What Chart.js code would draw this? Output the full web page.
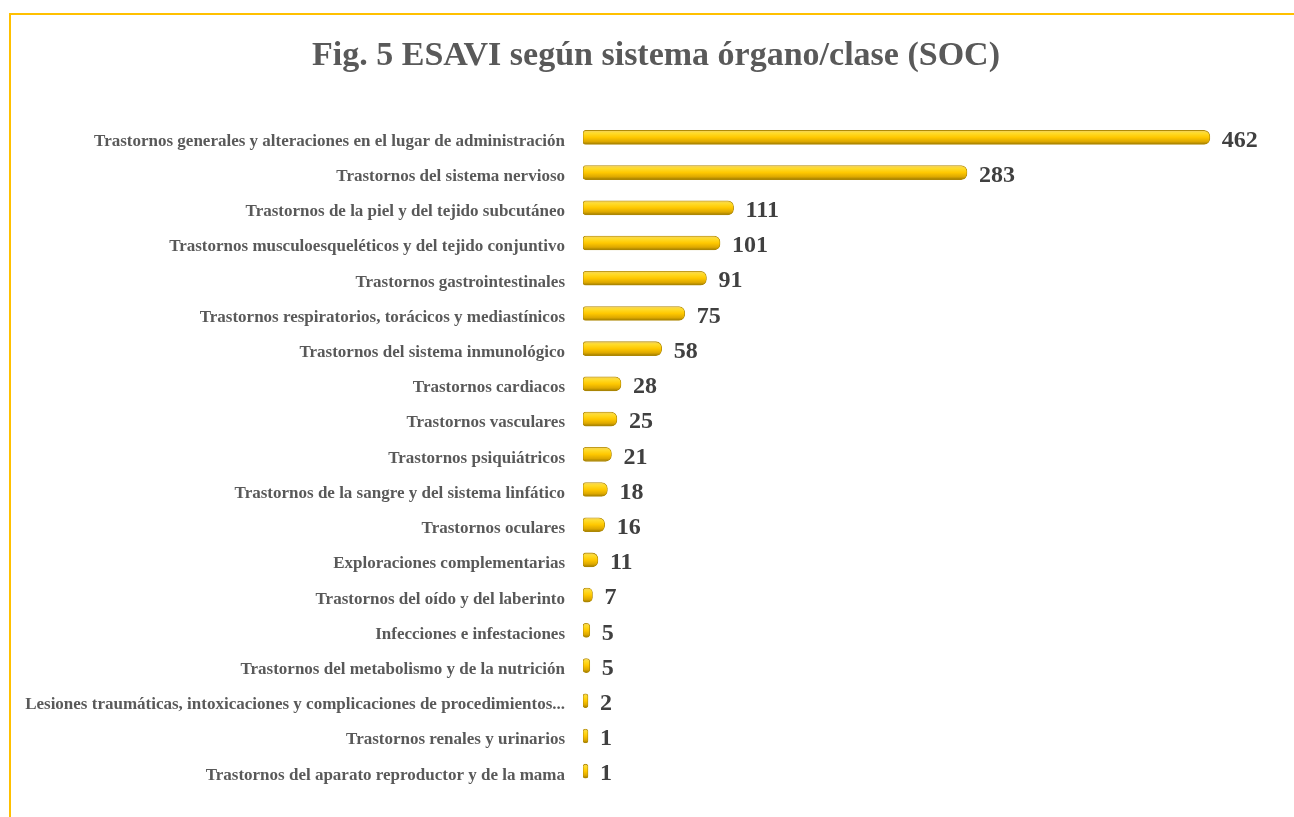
<!DOCTYPE html>
<html>
<head>
<meta charset="utf-8">
<script src="https://cdn.jsdelivr.net/npm/chart.js@4.4.1/dist/chart.umd.min.js"></script>
<style>
  html, body { margin: 0; padding: 0; background: #ffffff; }
  #wrap { position: relative; width: 1294px; height: 817px; overflow: hidden; }
  .ln { position: absolute; background: #FFC000; pointer-events: none; }
</style>
</head>
<body>
<div id="wrap">
  <canvas id="c"></canvas>
  <div class="ln" style="left:9px; top:13px; width:1290px; height:2px;"></div>
  <div class="ln" style="left:9px; top:13px; width:2px; height:810px;"></div>
</div>
<script>
const titleText = "Fig. 5 ESAVI según sistema órgano/clase (SOC)";
const categories = [
  "Trastornos generales y alteraciones en el lugar de administración",
  "Trastornos del sistema nervioso",
  "Trastornos de la piel y del tejido subcutáneo",
  "Trastornos musculoesqueléticos y del tejido conjuntivo",
  "Trastornos gastrointestinales",
  "Trastornos respiratorios, torácicos y mediastínicos",
  "Trastornos del sistema inmunológico",
  "Trastornos cardiacos",
  "Trastornos vasculares",
  "Trastornos psiquiátricos",
  "Trastornos de la sangre y del sistema linfático",
  "Trastornos oculares",
  "Exploraciones complementarias",
  "Trastornos del oído y del laberinto",
  "Infecciones e infestaciones",
  "Trastornos del metabolismo y de la nutrición",
  "Lesiones traumáticas, intoxicaciones y complicaciones de procedimientos...",
  "Trastornos renales y urinarios",
  "Trastornos del aparato reproductor y de la mama"
];
const counts = [462, 283, 111, 101, 91, 75, 58, 28, 25, 21, 18, 16, 11, 7, 5, 5, 2, 1, 1];
const axisMax = 524;

const FONT = "'Liberation Serif', 'DejaVu Serif', serif";

const valueLabels = {
  id: 'valueLabels',
  afterDatasetsDraw(chart) {
    const ctx = chart.ctx;
    const meta = chart.getDatasetMeta(0);
    ctx.save();
    ctx.font = "bold 24px " + FONT;
    ctx.fillStyle = "#404040";
    ctx.textAlign = "left";
    ctx.textBaseline = "middle";
    meta.data.forEach((el, i) => {
      ctx.fillText(String(counts[i]), el.x + 12, el.y + 3);
    });
    ctx.restore();
  }
};

function barFill(context) {
  const chart = context.chart;
  const yScale = chart.scales.y;
  if (!yScale || context.dataIndex === undefined) return '#FFCC00';
  const cy = yScale.getPixelForValue(context.dataIndex);
  if (!isFinite(cy)) return '#FFCC00';
  const h = 14;
  const g = chart.ctx.createLinearGradient(0, cy - h / 2, 0, cy + h / 2);
  g.addColorStop(0, '#F2CF60');
  g.addColorStop(0.2, '#FFDC2A');
  g.addColorStop(0.5, '#FFC800');
  g.addColorStop(0.8, '#DDA800');
  g.addColorStop(1, '#9C7A00');
  return g;
}

new Chart(document.getElementById('c'), {
  type: 'bar',
  data: {
    labels: categories,
    datasets: [{
      data: counts,
      backgroundColor: barFill,
      borderColor: '#B08A08',
      borderWidth: 0.8,
      borderSkipped: false,
      borderRadius: { topLeft: 3, bottomLeft: 3, topRight: 6, bottomRight: 6 },
      barThickness: 14,
      minBarLength: 5
    }]
  },
  options: {
    indexAxis: 'y',
    responsive: true,
    maintainAspectRatio: false,
    animation: false,
    layout: { padding: { left: 18, right: 0, top: 0, bottom: 28 } },
    plugins: {
      legend: { display: false },
      tooltip: { enabled: false },
      title: {
        display: true,
        text: titleText,
        color: '#595959',
        font: { family: FONT, size: 34, weight: 'bold', lineHeight: 1.2 },
        padding: { top: 36, bottom: 43 }
      }
    },
    scales: {
      x: {
        display: false,
        min: 0,
        max: axisMax
      },
      y: {
        grid: { display: false, drawTicks: false },
        border: { display: false },
        ticks: {
          color: '#595959',
          padding: 18,
          labelOffset: 4,
          font: { family: FONT, size: 17, weight: 'bold' }
        },
        afterFit(scale) { scale.width = 565; }
      }
    }
  },
  plugins: [valueLabels]
});
</script>
</body>
</html>
